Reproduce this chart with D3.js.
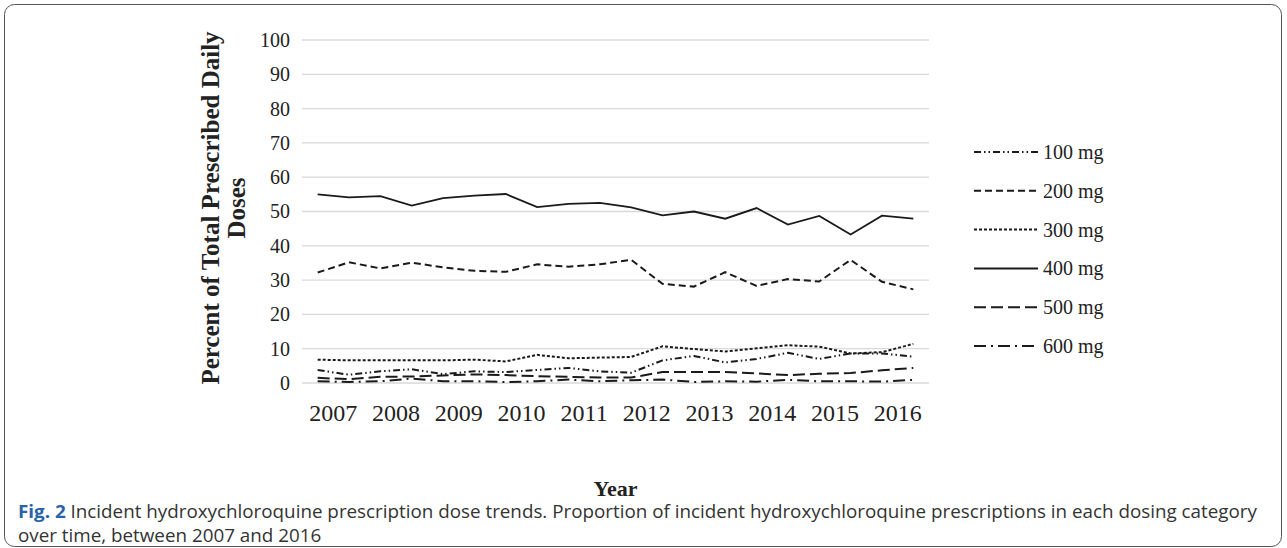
<!DOCTYPE html>
<html><head><meta charset="utf-8">
<script src="https://cdn.jsdelivr.net/npm/d3@7/dist/d3.min.js"></script>
<style>body{margin:0;background:#fff}svg{display:block}</style>
</head><body>
<svg id="c" width="1287" height="548"></svg>
<script>
const years = ["2007","2008","2009","2010","2011","2012","2013","2014","2015","2016"];
const halves = ["H1","H2"];
const yTicks = [0,10,20,30,40,50,60,70,80,90,100];
const seriesNames = ["100 mg","200 mg","300 mg","400 mg","500 mg","600 mg"];
const s100 = [3.8,2.4,3.4,4.0,2.6,3.4,3.2,3.8,4.4,3.4,3.0,6.6,7.9,6.0,7.0,8.8,7.0,8.6,8.6,7.7];
const s200 = [32.2,35.2,33.4,35.1,33.7,32.7,32.4,34.6,33.9,34.6,35.9,28.9,28.1,32.3,28.3,30.3,29.6,35.9,29.5,27.3];
const s300 = [6.8,6.6,6.6,6.6,6.6,6.8,6.3,8.2,7.2,7.4,7.6,10.7,9.9,9.2,10.1,11.0,10.6,8.6,9.0,11.4];
const s400 = [55.0,54.1,54.5,51.7,53.9,54.6,55.1,51.3,52.2,52.5,51.2,48.9,50.0,47.9,51.0,46.2,48.7,43.3,48.8,47.9];
const s500 = [1.5,1.1,1.8,1.9,2.2,2.5,2.3,2.0,1.8,1.6,1.6,3.2,3.2,3.2,2.8,2.3,2.7,2.9,3.7,4.4];
const s600 = [0.5,0.3,0.5,1.3,0.5,0.5,0.3,0.5,1.0,0.5,0.8,1.0,0.3,0.5,0.4,0.9,0.5,0.5,0.4,0.9];

const seriesValues = [s100,s200,s300,s400,s500,s600];
const dashes = ["7,3,1.5,3,1.5,3","7,4","3,2","","12,5","12,5,2,5"];
const serif = "Liberation Serif, Times New Roman, serif";

const svg = d3.select("#c");
svg.append("rect").attr("x",4.5).attr("y",4.5).attr("width",1277).attr("height",542)
  .attr("rx",10).attr("fill","none").attr("stroke","#555").attr("stroke-width",1);

const L=302, R=929, T=40, B=383;
const periods = years.flatMap(y=>halves.map(h=>y+" "+h));
const xYear = d3.scaleBand().domain(years).range([L,R]).padding(0);
const xP = d3.scaleBand().domain(periods).range([L,R]).padding(0);
const y = d3.scaleLinear().domain([0,100]).range([B,T]);

svg.append("g").selectAll("line").data(yTicks).join("line")
  .attr("x1",L).attr("x2",R).attr("y1",d=>y(d)).attr("y2",d=>y(d))
  .attr("stroke","#d9d9d9").attr("stroke-width",1.3);

const yAx = svg.append("g").attr("transform",`translate(${L},0)`)
  .call(d3.axisLeft(y).tickValues(yTicks).tickSize(0).tickPadding(12));
yAx.select(".domain").remove();
yAx.selectAll("text").attr("font-family",serif).attr("font-size",20).attr("fill","#222");

const xAx = svg.append("g").attr("transform",`translate(0,${B})`)
  .call(d3.axisBottom(xYear).tickSize(0).tickPadding(21));
xAx.select(".domain").remove();
xAx.selectAll("text").attr("font-family",serif).attr("font-size",24).attr("fill","#222");

const line = d3.line().x((d,i)=>xP(periods[i])+xP.bandwidth()/2).y(d=>y(d));
seriesValues.forEach((vals,k)=>{
  svg.append("path").datum(vals).attr("d",line).attr("fill","none")
    .attr("stroke","#1a1a1a").attr("stroke-width",k===3?1.8:2)
    .attr("stroke-dasharray",dashes[k]||null);
});

const lg = svg.append("g");
seriesNames.forEach((n,k)=>{
  const ly = 152 + k*38.8;
  lg.append("line").attr("x1",974).attr("x2",1038).attr("y1",ly).attr("y2",ly)
    .attr("stroke","#1a1a1a").attr("stroke-width",2).attr("stroke-dasharray",dashes[k]||null);
  lg.append("text").attr("x",1043).attr("y",ly).attr("dy","0.35em").text(n)
    .attr("font-family",serif).attr("font-size",20).attr("fill","#222");
});

const yt = svg.append("text").attr("transform","translate(219,208) rotate(-90)")
  .attr("text-anchor","middle").attr("font-family",serif)
  .attr("font-weight","bold").attr("font-size",25).attr("fill","#222");
yt.append("tspan").attr("x",0).attr("y",0).text("Percent of Total Prescribed Daily");
yt.append("tspan").attr("x",0).attr("y",26).text("Doses");

svg.append("text").attr("x",(L+R)/2).attr("y",496).attr("text-anchor","middle")
  .attr("font-family",serif).attr("font-weight","bold")
  .attr("font-size",22).attr("fill","#222").text("Year");

const capFont = "Open Sans, Liberation Sans, sans-serif";
const capG = svg.append("g");
const cap1 = capG.append("text").attr("x",0).attr("y",518)
  .attr("font-family",capFont).attr("font-size",17.5).attr("fill","#333");
cap1.append("tspan").attr("font-weight","bold").attr("fill","#2a63a8").text("Fig. 2");
cap1.append("tspan").text(" Incident hydroxychloroquine prescription dose trends. Proportion of incident hydroxychloroquine prescriptions in each dosing category");
capG.append("text").attr("x",0).attr("y",542)
  .attr("font-family",capFont).attr("font-size",17.5).attr("fill","#333")
  .text("over time, between 2007 and 2016");
const w1 = cap1.node().getComputedTextLength();
capG.attr("transform",`translate(18,0) scale(${1240 / w1},1)`);
</script>
</body></html>
